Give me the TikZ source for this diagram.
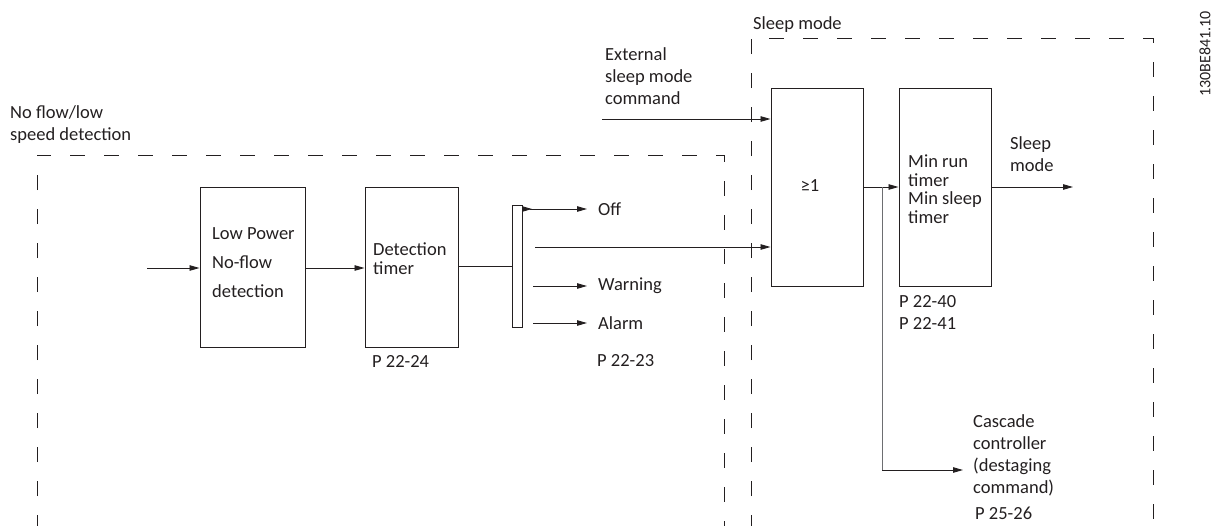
\documentclass[tikz,border=0pt]{standalone}
\usepackage{fontspec}
\setmainfont{Carlito}
\usetikzlibrary{arrows.meta}
\definecolor{diagink}{HTML}{231F20}
\definecolor{diaggray}{HTML}{6D6E71}

\begin{document}
\begin{tikzpicture}[
  x=1pt,
  y=-1pt,
  every node/.style={font=\fontsize{18.5}{22}\selectfont, text=diagink},
  wire/.style={diagink, line width=0.9pt},
  arr/.style={wire, -{Triangle[length=10pt, width=5.5pt]}},
  zone/.style={diagink, line width=0.9pt, dash pattern=on 15pt off 19pt},
  block/.style={draw=diagink, line width=1pt, inner sep=0pt},
  txt/.style={inner sep=0pt, align=left},
  parm/.style={inner sep=0pt, anchor=west}
]
  \useasboundingbox (0,0) rectangle (1216,525);

  % ---- dashed zones ----
  \draw[zone] (37,530) -- (37,155) -- (724,155) -- (724,530);
  \draw[zone] (751,530) -- (751,38) -- (1153,38) -- (1153,530);
  \node[txt, anchor=north west] (nflabel) at (10,105) {No flow/low\\speed detection};
  \node[txt, anchor=west] (smlabel) at (753,25) {Sleep mode};

  % ---- blocks ----
  \node[block, minimum width=105pt, minimum height=160pt] (lowpow) at (252.5,267) {};
  \node[txt, anchor=north west, font=\fontsize{18.5}{29}\selectfont] (lowtext)
        at (212,227) {Low Power\\No-flow\\detection};
  \node[block, minimum width=93pt, minimum height=160pt] (dettimer) at (411.5,267) {};
  \node[txt, anchor=north west, font=\fontsize{18.5}{19}\selectfont] (dettext)
        at (373,243) {Detection\\timer};
  \node[block, minimum width=10pt, minimum height=122pt] (switch) at (517,266) {};
  \node[block, minimum width=92pt, minimum height=198pt] (orgate) at (817,187) {};
  \node[inner sep=0pt] (orsign) at (810,186) {≥1};
  \node[block, minimum width=92pt, minimum height=198pt] (minrun) at (945,187) {};
  \node[txt, anchor=north west, font=\fontsize{18.5}{18.5}\selectfont] (mintext)
        at (908,155) {Min run\\timer\\Min sleep\\timer};

  % ---- switch outputs ----
  \node[anchor=west, inner xsep=11pt, inner ysep=0pt] (off) at (587,209) {Off};
  \node[anchor=west, inner xsep=11pt, inner ysep=0pt] (warn) at (587,286) {Warning};
  \node[anchor=west, inner xsep=11pt, inner ysep=0pt] (alarm) at (587,323) {Alarm};
  \coordinate (offin) at (522,209);
  \coordinate (warnin) at (533,286);
  \coordinate (alarmin) at (533,323);
  \coordinate (bypass) at (535,247);

  % ---- outer texts ----
  \node[txt, anchor=north west] (extcmd) at (605,47) {External\\sleep mode\\command};
  \coordinate (extin) at (602,119);
  \node[txt, anchor=north west] (sleepout) at (1010,136) {Sleep\\mode};
  \coordinate (sleepend) at (1073,187);
  \node[txt, anchor=north west] (cascade) at (973,414)
        {Cascade\\controller\\(destaging\\command)};
  \coordinate (branch) at (882,187);
  \coordinate (cascin) at (963,470);
  \coordinate (flowin) at (147,268);

  % ---- parameter numbers ----
  \node[parm] (p2224) at (372,361) {P 22-24};
  \node[parm] (p2223) at (597,361) {P 22-23};
  \node[parm, anchor=north west, align=left] (p2240) at (899,295) {P 22-40\\P 22-41};
  \node[parm] (p2526) at (975,513) {P 25-26};
  \node[inner sep=0pt, anchor=west, rotate=90, font=\fontsize{16}{18}\selectfont]
        (figid) at (1205,97) {130BE841.10};

  % ---- connections ----
  \draw[arr] (flowin) -- (flowin -| lowpow.west);
  \draw[arr] (lowpow.east |- flowin) -- (dettimer.west |- flowin);
  \draw[wire] (dettimer.east |- switch.west) -- (switch.west);
  \draw[wire, {Triangle[length=10pt, width=5.5pt, reversed]}-{Triangle[length=10pt, width=5.5pt]}]
        (offin) -- (off.west);
  \draw[arr] (warnin) -- (warn.west);
  \draw[arr] (alarmin) -- (alarm.west);
  \draw[arr] (bypass) -- (bypass -| orgate.west);
  \draw[arr] (extin) -- (extin -| orgate.west);
  \draw[arr] (orgate.east) -- (minrun.west);
  \draw[diaggray, line width=1pt] (branch) -- (branch |- cascin);
  \draw[arr] (branch |- cascin) -- (cascin);
  \draw[arr] (minrun.east) -- (sleepend);
\end{tikzpicture}
\end{document}
